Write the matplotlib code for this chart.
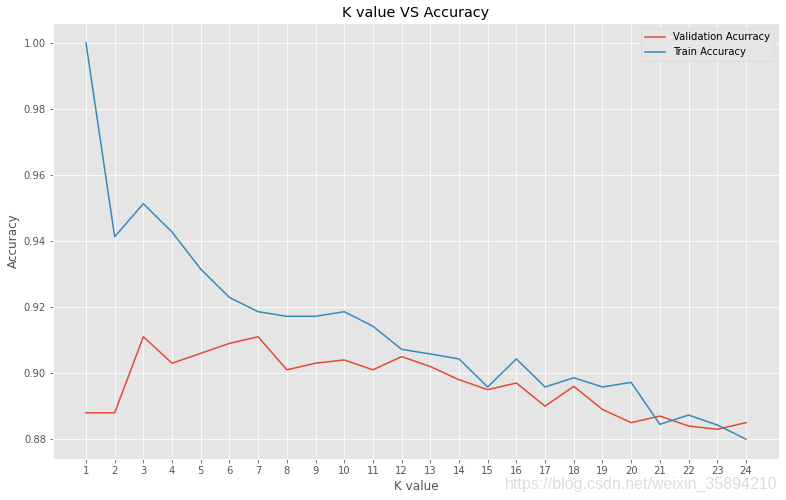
import numpy as np
import matplotlib
matplotlib.use("Agg")
import matplotlib.pyplot as plt

plt.style.use("ggplot")

k_values = list(range(1, 25))
val_acc = [0.888, 0.888, 0.911, 0.903, 0.906, 0.909, 0.911, 0.901, 0.903, 0.904,
           0.901, 0.905, 0.902, 0.898, 0.895, 0.897, 0.890, 0.896, 0.889, 0.885,
           0.887, 0.884, 0.883, 0.885]
train_acc = [1.000, 0.9413, 0.9513, 0.9427, 0.9315, 0.9229, 0.9186, 0.9172, 0.9172, 0.9186,
             0.9142, 0.9072, 0.9058, 0.9043, 0.8958, 0.9043, 0.8958, 0.8986, 0.8958, 0.8972,
             0.8845, 0.8873, 0.8843, 0.8800]

fig = plt.figure(figsize=(786 / 72, 500 / 72), dpi=72)
ax = fig.add_axes([0.0674, 0.082, 0.9236, 0.872])

ax.plot(k_values, val_acc, label="Validation Acurracy")
ax.plot(k_values, train_acc, label="Train Accuracy")
ax.set_xticks(k_values)
ax.set_title("K value VS Accuracy")
ax.set_xlabel("K value")
ax.set_ylabel("Accuracy")
ax.legend(loc="upper right")

# csdn watermark
fig.text(0.989, 0.032, "https://blog.csdn.net/weixin_35894210", ha="right", va="center",
         color="#dcdcdc", fontsize=16, family="Liberation Sans")

fig.savefig("out.png", dpi=72)
